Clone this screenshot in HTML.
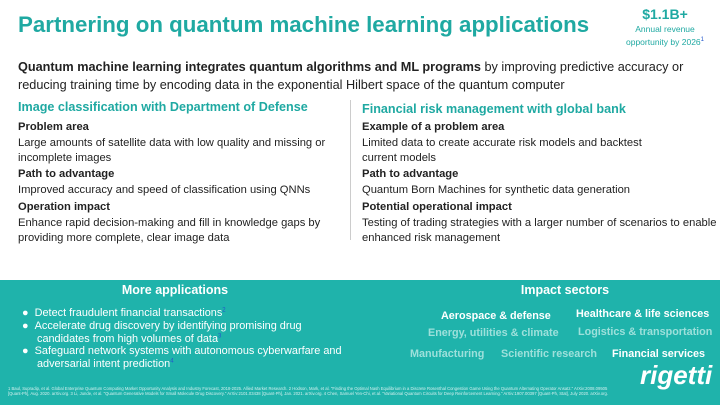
<!DOCTYPE html>
<html><head><style>
body{margin:0;width:720px;height:405px;overflow:hidden;font-family:"Liberation Sans",sans-serif;background:#fff;position:relative}
.a{position:absolute;white-space:nowrap}
h1{position:absolute;left:18px;top:12px;margin:0;font-size:22.3px;color:#1fa9a2;font-weight:bold;white-space:nowrap}
.t{font-size:11.2px;color:#222;line-height:15.5px}
.b{font-weight:bold}
.h{color:#1fa9a2;font-weight:bold;font-size:12.6px}
.band{position:absolute;left:0;top:280px;width:720px;height:125px;background:#1fb3ab}
.w{color:#fff}
.s{font-size:10.8px;font-weight:bold}
.f{color:#9de0db}
.bl{position:absolute;left:22px;color:#fff;font-size:10.9px;line-height:13px;white-space:nowrap}
</style></head><body>
<h1>Partnering on quantum machine learning applications</h1>
<div class="a" style="left:615px;top:6px;width:100px;text-align:center;color:#1fa9a2;font-weight:bold;font-size:14px">$1.1B+</div>
<div class="a" style="left:615px;top:24px;width:100px;text-align:center;color:#1fa9a2;font-size:8.5px;line-height:11px">Annual revenue<br>opportunity by 2026<sup style="font-size:6px;color:#2255cc">1</sup></div>
<div class="a t" style="left:18px;top:58px;font-size:12.7px;line-height:18px"><b>Quantum machine learning integrates quantum algorithms and ML programs</b> by improving predictive accuracy or<br>reducing training time by encoding data in the exponential Hilbert space of the quantum computer</div>
<div class="a h" style="left:18px;top:100px">Image classification with Department of Defense</div>
<div class="a h" style="left:362px;top:102px">Financial risk management with global bank</div>
<div class="a" style="left:350px;top:100px;width:1px;height:140px;background:#ccc"></div>
<div class="a t" style="left:18px;top:120px"><b>Problem area</b><br>Large amounts of satellite data with low quality and missing or<br>incomplete images</div>
<div class="a t" style="left:18px;top:167px"><b>Path to advantage</b><br>Improved accuracy and speed of classification using QNNs</div>
<div class="a t" style="left:18px;top:200px"><b>Operation impact</b><br>Enhance rapid decision-making and fill in knowledge gaps by<br>providing more complete, clear image data</div>
<div class="a t" style="left:362px;top:120px"><b>Example of a problem area</b><br>Limited data to create accurate risk models and backtest<br>current models</div>
<div class="a t" style="left:362px;top:167px"><b>Path to advantage</b><br>Quantum Born Machines for synthetic data generation</div>
<div class="a t" style="left:362px;top:200px"><b>Potential operational impact</b><br>Testing of trading strategies with a larger number of scenarios to enable<br>enhanced risk management</div>
<div class="band"></div>
<div class="a w b" style="left:0;top:283px;width:350px;text-align:center;font-size:12.5px">More applications</div>
<div class="a w b" style="left:430px;top:283px;width:270px;text-align:center;font-size:12.5px">Impact sectors</div>
<div class="bl" style="top:307px">●&nbsp;&nbsp;Detect fraudulent financial transactions<sup style="font-size:6px;color:#2255cc;line-height:0">2</sup></div>
<div class="bl" style="top:320px">●&nbsp;&nbsp;Accelerate drug discovery by identifying promising drug</div>
<div class="bl" style="top:333px;left:37px">candidates from high volumes of data<sup style="font-size:6px;color:#2255cc;line-height:0">3</sup></div>
<div class="bl" style="top:345px">●&nbsp;&nbsp;Safeguard network systems with autonomous cyberwarfare and</div>
<div class="bl" style="top:358px;left:37px">adversarial intent prediction<sup style="font-size:6px;color:#2255cc;line-height:0">4</sup></div>
<div class="a s w" style="left:441px;top:310px">Aerospace &amp; defense</div>
<div class="a s w" style="left:576px;top:308px">Healthcare &amp; life sciences</div>
<div class="a s f" style="left:428px;top:327px">Energy, utilities &amp; climate</div>
<div class="a s f" style="left:578px;top:326px">Logistics &amp; transportation</div>
<div class="a s f" style="left:410px;top:348px">Manufacturing</div>
<div class="a s f" style="left:501px;top:348px">Scientific research</div>
<div class="a s w" style="left:612px;top:348px">Financial services</div>
<div class="a w b" style="left:640px;top:360px;font-size:26px;font-style:italic">rigetti</div>
<div class="a w" style="left:8px;top:386px;font-size:4.2px;line-height:5px;opacity:0.8">1 Baul, Supradip, et al. Global Enterprise Quantum Computing Market Opportunity Analysis and Industry Forecast, 2018-2025. Allied Market Research. 2 Hodson, Mark, et al. "Finding the Optimal Nash Equilibrium in a Discrete Rosenthal Congestion Game Using the Quantum Alternating Operator Ansatz." ArXiv:2008.09505<br>[Quant-Ph], Aug. 2020. arXiv.org. 3 Li, Junde, et al. "Quantum Generative Models for Small Molecule Drug Discovery." ArXiv:2101.03438 [Quant-Ph], Jan. 2021. arXiv.org. 4 Chen, Samuel Yen-Chi, et al. "Variational Quantum Circuits for Deep Reinforcement Learning." ArXiv:1907.00397 [Quant-Ph, Stat], July 2020. arXiv.org.</div>
</body></html>
